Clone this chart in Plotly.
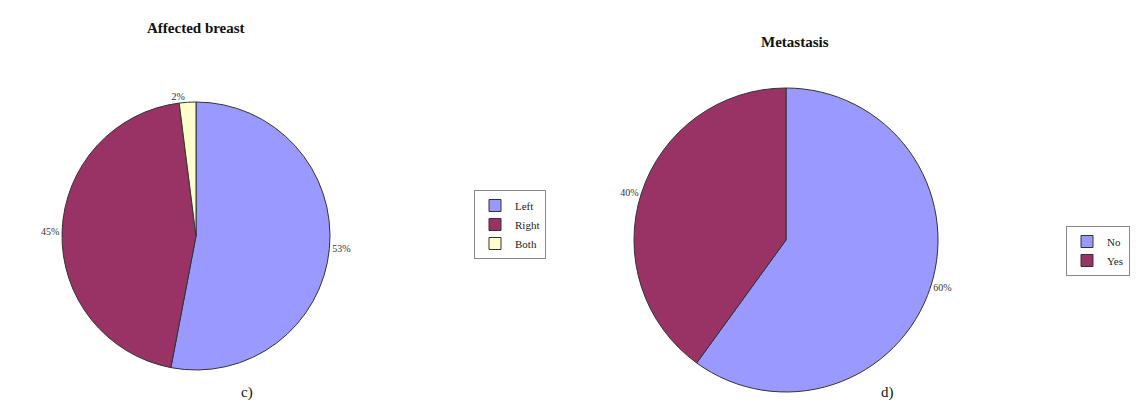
import plotly.graph_objects as go

breast_labels = ["Left", "Right", "Both"]
breast_values = [53, 45, 2]
meta_labels = ["No", "Yes"]
meta_values = [60, 40]
colors_breast = ["#9999FF", "#993366", "#FFFFCC"]
colors_meta = ["#9999FF", "#993366"]

W, H = 1137, 405

def dom(cx, cy, r):
    return dict(x=[(cx - r) / W, (cx + r) / W], y=[(H - cy - r) / H, (H - cy + r) / H])

fig = go.Figure()
fig.add_trace(go.Pie(
    labels=breast_labels, values=breast_values, sort=False, direction="clockwise", rotation=0,
    marker=dict(colors=colors_breast, line=dict(color="#333333", width=1)),
    textposition="outside", texttemplate="%{value}%",
    textfont=dict(family="Liberation Serif", size=10, color="#333333"),
    domain=dom(196, 236, 134), legend="legend", hoverinfo="label+percent",
))
fig.add_trace(go.Pie(
    labels=meta_labels, values=meta_values, sort=False, direction="clockwise", rotation=0,
    marker=dict(colors=colors_meta, line=dict(color="#333333", width=1)),
    textposition="outside", texttemplate="%{value}%",
    textfont=dict(family="Liberation Serif", size=10, color="#333333"),
    domain=dom(786, 240, 152), legend="legend2", hoverinfo="label+percent",
))

legend_style = dict(font=dict(family="Liberation Serif", size=11, color="#222222"),
                    bordercolor="#888888", borderwidth=1, bgcolor="white",
                    xanchor="left", yanchor="top", itemwidth=30, tracegroupgap=0)

def ann(text, x, y, size=15):
    return dict(text=text, x=x / W, y=1 - y / H, xref="paper", yref="paper",
                xanchor="center", yanchor="middle", showarrow=False,
                font=dict(family="Liberation Serif", size=size, color="#111111"))

fig.update_layout(
    width=W, height=H,
    margin=dict(l=0, r=0, t=0, b=0, autoexpand=False),
    paper_bgcolor="white", plot_bgcolor="white",
    legend=dict(x=474 / W, y=1 - 190 / H, **legend_style),
    legend2=dict(x=1066 / W, y=1 - 226 / H, **legend_style),
    annotations=[
        ann("<b>Affected breast</b>", 196, 28),
        ann("<b>Metastasis</b>", 795, 42),
        ann("c)", 247, 392),
        ann("d)", 887, 392),
    ],
)
fig.write_html("out.html", config={"displayModeBar": False},
               post_script="document.body.style.margin='0';")
